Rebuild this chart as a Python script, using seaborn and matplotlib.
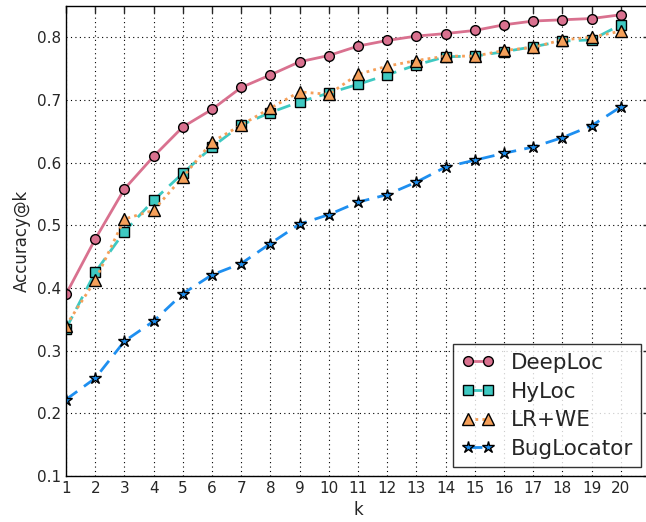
import matplotlib
matplotlib.use("Agg")
import matplotlib.pyplot as plt
import seaborn as sns
import numpy as np
import pandas as pd

k = list(range(1, 21))
deeploc = [0.390, 0.478, 0.558, 0.610, 0.657, 0.685, 0.720, 0.740, 0.761, 0.771,
           0.786, 0.795, 0.802, 0.806, 0.811, 0.820, 0.826, 0.828, 0.830, 0.836]
hyloc = [0.335, 0.425, 0.490, 0.540, 0.583, 0.625, 0.660, 0.680, 0.697, 0.711,
         0.725, 0.740, 0.756, 0.769, 0.770, 0.777, 0.785, 0.794, 0.796, 0.820]
lrwe = [0.340, 0.412, 0.510, 0.524, 0.577, 0.633, 0.660, 0.687, 0.713, 0.709,
        0.741, 0.754, 0.763, 0.770, 0.770, 0.779, 0.784, 0.796, 0.800, 0.810]
buglocator = [0.222, 0.256, 0.315, 0.347, 0.391, 0.421, 0.439, 0.471, 0.502, 0.517,
              0.537, 0.549, 0.569, 0.593, 0.604, 0.615, 0.625, 0.640, 0.659, 0.689]

series = {"DeepLoc": deeploc, "HyLoc": hyloc, "LR+WE": lrwe, "BugLocator": buglocator}
styles = {
    "DeepLoc": dict(color="#d9718f", marker="o", linestyle="-", ms=7),
    "HyLoc": dict(color="#3ec9c2", marker="s", linestyle=(0, (5, 3)), ms=6.5),
    "LR+WE": dict(color="#f5a05a", marker="^", linestyle=(0, (1, 1.5)), ms=8),
    "BugLocator": dict(color="#1e8ff0", marker="*", linestyle=(0, (5, 3)), ms=9),
}

sns.set_style("white")
plt.rcParams["font.family"] = ["DejaVu Sans"]

fig, ax = plt.subplots(figsize=(6.46, 5.22), dpi=100)
fig.subplots_adjust(left=66/646, right=650/646, top=1 - 6/522, bottom=1 - 476/522)

for name, vals in series.items():
    st = styles[name]
    df = pd.DataFrame({"k": k, "acc": vals})
    sns.lineplot(data=df, x="k", y="acc", ax=ax, color=st["color"], marker=st["marker"],
                 markersize=st["ms"], markeredgecolor="black", markeredgewidth=1,
                 markerfacecolor=st["color"], linewidth=2, label=name)
    ax.lines[-1].set_linestyle(st["linestyle"])

ax.set_xlim(1, 21)
ax.set_ylim(0.1, 0.85)
ax.set_xticks(k)
ax.set_yticks(np.arange(0.1, 0.81, 0.1))
ax.set_yticklabels([f"{v:.1f}" for v in np.arange(0.1, 0.81, 0.1)])
ax.set_xlabel("k", fontsize=12)
ax.set_ylabel("Accuracy@k", fontsize=12)
ax.tick_params(direction="in", top=True, right=True, labelsize=11, length=5, width=1)
ax.grid(True, linestyle=(0, (1, 3)), color="black", linewidth=0.8)
for s in ax.spines.values():
    s.set_color("black")
    s.set_linewidth(1)

leg = ax.legend(loc="lower right", numpoints=2, fontsize=15.5, frameon=True, fancybox=False,
                borderaxespad=0.4, handlelength=1.5, handletextpad=0.75,
                labelspacing=0.4, borderpad=0.4)
leg.get_frame().set_edgecolor("black")
leg.get_frame().set_linewidth(1)

fig.savefig("out.png", dpi=100)
